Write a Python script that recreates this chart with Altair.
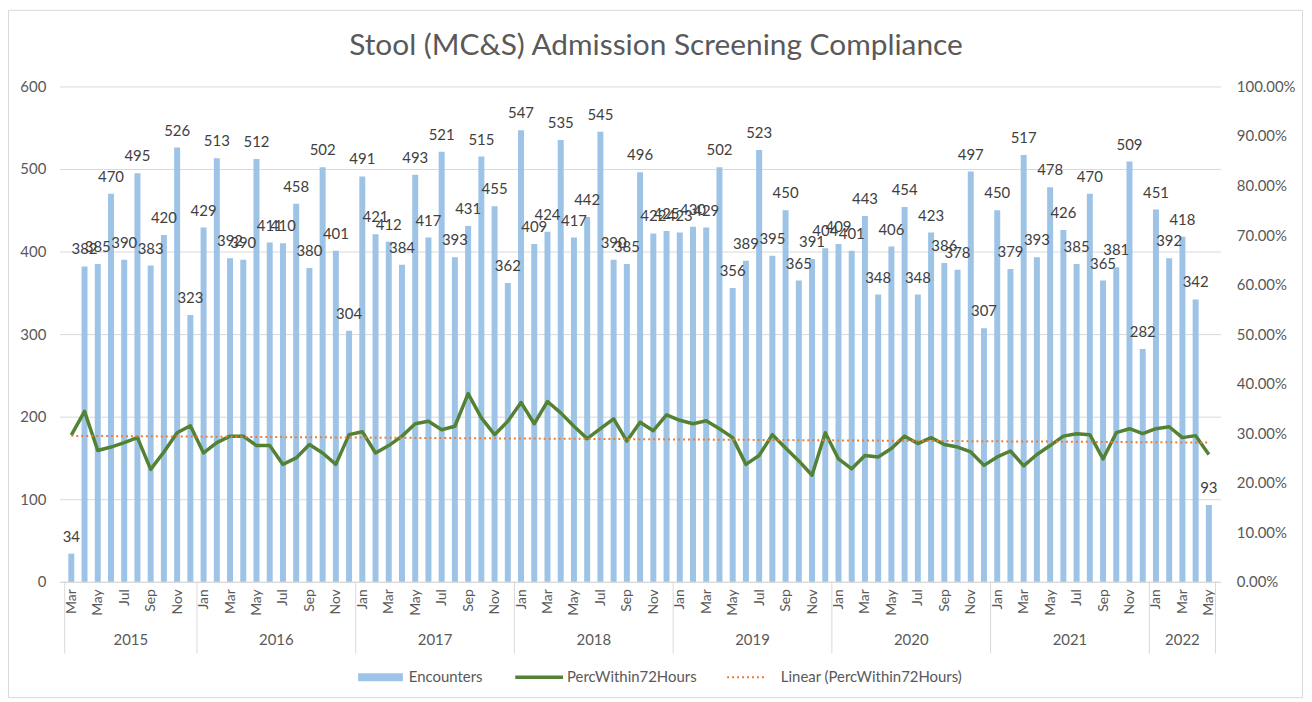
import altair as alt
import pandas as pd

MONTHS = ['Jan', 'Feb', 'Mar', 'Apr', 'May', 'Jun', 'Jul', 'Aug', 'Sep', 'Oct', 'Nov', 'Dec']
START_YEAR, START_MONTH = 2015, 3

encounters = [
    34, 382, 385, 470, 390, 495, 383, 420, 526, 323,
    429, 513, 392, 390, 512, 411, 410, 458, 380, 502, 401, 304,
    491, 421, 412, 384, 493, 417, 521, 393, 431, 515, 455, 362,
    547, 409, 424, 535, 417, 442, 545, 390, 385, 496, 422, 425,
    423, 430, 429, 502, 356, 389, 523, 395, 450, 365, 391, 404,
    409, 401, 443, 348, 406, 454, 348, 423, 386, 378, 497, 307,
    450, 379, 517, 393, 478, 426, 385, 470, 365, 381, 509, 282,
    451, 392, 418, 342, 93,
]

perc_within_72h = [
    29.6, 34.4, 26.5, 27.2, 28.1, 29.1, 22.7, 26.2, 30.1, 31.5,
    26.0, 28.1, 29.4, 29.4, 27.5, 27.5, 23.7, 25.0, 27.7, 26.0, 23.7, 29.7,
    30.3, 26.0, 27.5, 29.4, 31.9, 32.4, 30.7, 31.4, 38.0, 33.1, 29.7, 32.4,
    36.2, 31.9, 36.4, 34.1, 31.4, 28.9, 30.9, 32.9, 28.4, 32.2, 30.5, 33.7,
    32.6, 31.9, 32.5, 30.9, 29.1, 23.7, 25.5, 29.7, 27.0, 24.4, 21.5, 30.1,
    24.8, 22.8, 25.5, 25.2, 26.9, 29.4, 27.9, 29.1, 27.7, 27.2, 26.2, 23.5,
    25.2, 26.4, 23.4, 25.7, 27.5, 29.4, 29.9, 29.7, 24.8, 30.1, 30.9, 29.9,
    30.9, 31.3, 29.1, 29.5, 25.7,
]

LABEL_MONTHS = ['Jan', 'Mar', 'May', 'Jul', 'Sep', 'Nov']
LEGEND_LABELS = ['Encounters', 'PercWithin72Hours', 'Linear (PercWithin72Hours)']
TITLE = 'Stool (MC&S) Admission Screening Compliance'

rows = []
yr, mo = START_YEAR, START_MONTH
for i in range(len(encounters)):
    rows.append(dict(idx=i, year=str(yr), month=MONTHS[mo - 1],
                     enc=encounters[i], perc=perc_within_72h[i] / 100.0))
    mo += 1
    if mo > 12:
        mo, yr = 1, yr + 1
df = pd.DataFrame(rows)

tick_idx = [int(r) for r in df.loc[df.month.isin(LABEL_MONTHS), 'idx']]
label_expr = '[' + ','.join("'%s'" % m for m in df.month) + '][datum.value]'

firsts = df.groupby('year')['idx'].min().tolist()
bounds = [f - 0.5 for f in firsts] + [len(encounters) - 0.5]
sep_df = pd.DataFrame({'idx': bounds})

W, H = 1167, 498
GRID = '#d9d9d9'
TXT = '#595959'
FONT = 'Lato'

X = alt.X('idx:Q',
          scale=alt.Scale(domain=[-0.5, len(encounters) - 0.5], nice=False, zero=False),
          axis=alt.Axis(values=tick_idx, labelExpr=label_expr, labelAngle=270, grid=False,
                        ticks=False, domain=True, domainColor=GRID, labelColor=TXT,
                        labelFontSize=14, labelFont=FONT, labelPadding=7, title=None,
                        labelOverlap=False, labelFlush=False))

YL = alt.Y('enc:Q', scale=alt.Scale(domain=[0, 600], nice=False),
           axis=alt.Axis(values=list(range(0, 601, 100)), grid=True, gridColor=GRID,
                         domain=False, ticks=False, labelColor=TXT, labelFontSize=15,
                         labelFont=FONT, labelPadding=14, title=None, orient='left'))

YR = alt.Y('perc:Q', scale=alt.Scale(domain=[0, 1], nice=False),
           axis=alt.Axis(values=[i / 10 for i in range(11)], format='.2%', orient='right',
                         grid=False, domain=False, ticks=False, labelColor=TXT,
                         labelFontSize=15, labelFont=FONT, labelPadding=16, title=None))

base = alt.Chart(df)
one = pd.DataFrame({'k': [0]})

border = alt.Chart(one).mark_rect(fillOpacity=0, stroke=GRID, strokeWidth=1).encode(
    x=alt.value(-51.5), x2=alt.value(1249.5), y=alt.value(-76.5), y2=alt.value(614.5))

title = alt.Chart(one).mark_text(font=FONT, fontSize=30, color=TXT, align='center',
                                 baseline='middle').encode(
    x=alt.value(W / 2 + 16), y=alt.value(-41), text=alt.value(TITLE))

bars = base.mark_bar(color='#9DC3E6', size=6).encode(x=X, y=YL)
labels = base.mark_text(font=FONT, fontSize=15, color='#404040', baseline='middle', dy=-17).encode(
    x=X, y=YL, text='enc:Q')

seps = alt.Chart(sep_df).mark_rule(color=GRID, strokeWidth=1).encode(
    x=X, y=alt.value(H), y2=alt.value(H + 72))
years = base.transform_aggregate(idx='mean(idx)', groupby=['year']).mark_text(
    font=FONT, fontSize=15, color=TXT, baseline='middle').encode(
    x=X, y=alt.value(H + 59), text='year:N')

LY = H + 96
leg_bar = alt.Chart(one).mark_rect(color='#9DC3E6').encode(
    x=alt.value(300), x2=alt.value(345), y=alt.value(LY - 4), y2=alt.value(LY + 4))
leg_t1 = alt.Chart(one).mark_text(font=FONT, fontSize=15, color=TXT, align='left', baseline='middle').encode(
    x=alt.value(351), y=alt.value(LY), text=alt.value(LEGEND_LABELS[0]))
leg_line = alt.Chart(one).mark_rule(color='#548235', strokeWidth=3.5).encode(
    x=alt.value(458), x2=alt.value(506), y=alt.value(LY))
leg_t2 = alt.Chart(one).mark_text(font=FONT, fontSize=15, color=TXT, align='left', baseline='middle').encode(
    x=alt.value(510), y=alt.value(LY), text=alt.value(LEGEND_LABELS[1]))
leg_dot = alt.Chart(one).mark_rule(color='#ED7D31', strokeWidth=2, strokeDash=[2, 3]).encode(
    x=alt.value(671), x2=alt.value(711), y=alt.value(LY))
leg_t3 = alt.Chart(one).mark_text(font=FONT, fontSize=15, color=TXT, align='left', baseline='middle').encode(
    x=alt.value(725), y=alt.value(LY), text=alt.value(LEGEND_LABELS[2]))

line = base.mark_line(color='#548235', strokeWidth=3.5, strokeJoin='round').encode(x=X, y=YR)
trend = base.transform_regression('idx', 'perc').mark_line(
    color='#ED7D31', strokeWidth=2, strokeDash=[2, 3]).encode(x=X, y=YR)

left = alt.layer(border, title, bars, labels, seps, years,
                 leg_bar, leg_t1, leg_line, leg_t2, leg_dot, leg_t3)
right = alt.layer(line, trend)

chart = alt.layer(left, right).resolve_scale(y='independent').properties(
    width=W, height=H,
    autosize=alt.AutoSizeParams(type='none'),
    padding={'left': 52, 'top': 77, 'right': 84, 'bottom': 117},
).configure_view(strokeWidth=0)

chart.save('out.html', embed_options={'renderer': 'svg', 'actions': False})
